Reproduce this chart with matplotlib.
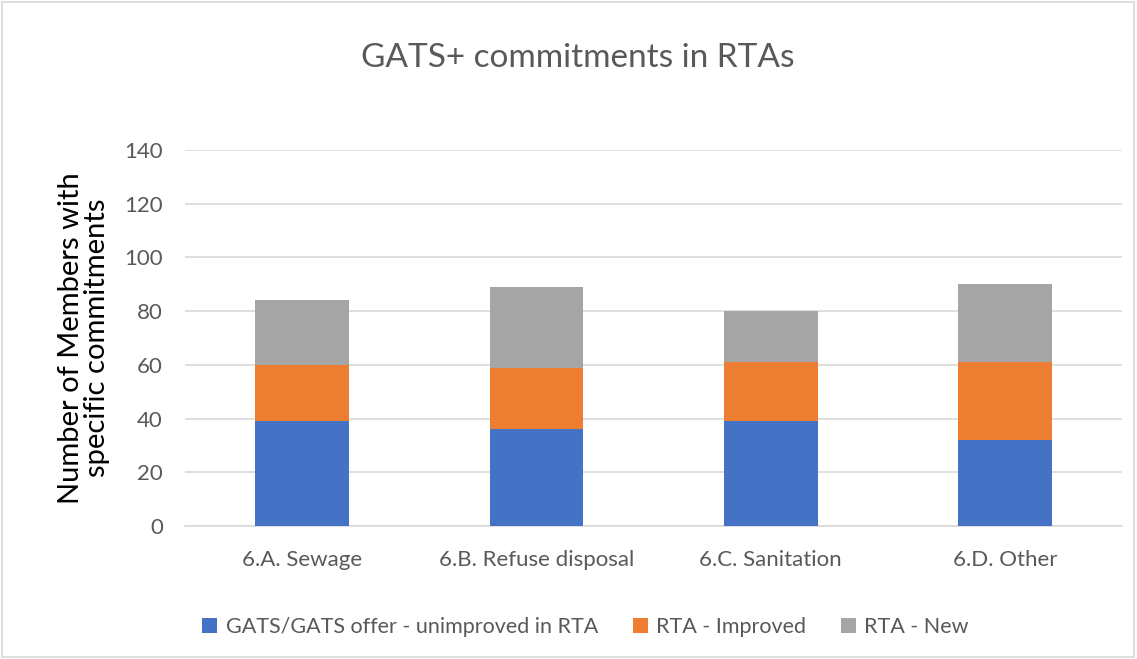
import matplotlib
matplotlib.use("Agg")
import matplotlib.pyplot as plt
from matplotlib.patches import Rectangle
import numpy as np

categories = ["6.A. Sewage", "6.B. Refuse disposal", "6.C. Sanitation", "6.D. Other"]
unimproved = [39, 36, 39, 32]
improved = [21, 23, 22, 29]
new = [24, 30, 19, 29]
series_names = ["GATS/GATS offer - unimproved in RTA", "RTA - Improved", "RTA - New"]
colors = ["#4472C4", "#ED7D31", "#A5A5A5"]

plt.rcParams['font.family'] = ['Lato', 'DejaVu Sans']

fig = plt.figure(figsize=(11.37, 6.59), dpi=100)
ax = fig.add_axes([0.1627, 0.2018, 0.8243, 0.5706])

x = np.arange(len(categories))
w = 0.4
bottom = np.zeros(len(categories))
for vals, name, c in zip([unimproved, improved, new], series_names, colors):
    ax.bar(x, vals, w, bottom=bottom, color=c, label=name, zorder=3)
    bottom += np.array(vals)

ax.set_xlim(-0.5, len(categories) - 0.5)
ax.set_ylim(0, 140)
ax.set_yticks(range(0, 141, 20))
ax.set_xticks(x)
ax.set_xticklabels(categories)
ax.grid(axis='y', color='#D9D9D9', linewidth=1.2, zorder=0)
for s in ['top', 'right', 'left']:
    ax.spines[s].set_visible(False)
ax.spines['bottom'].set_color('#D9D9D9')
ax.spines['bottom'].set_linewidth(1.2)
ax.tick_params(axis='both', length=0, labelsize=16, labelcolor='#595959')
ax.tick_params(axis='y', pad=16)
ax.tick_params(axis='x', pad=17)

ax.set_ylabel("Number of Members with\nspecific commitments", fontsize=21, color='black', labelpad=10,
              linespacing=1.0)

fig.text(0.508, 0.912, "GATS+ commitments in RTAs", ha='center', va='center', fontsize=24, color='#595959')

fig.legend(loc='center', bbox_to_anchor=(0.515, 0.048), ncol=3, frameon=False, fontsize=15.5,
           handlelength=0.7, handleheight=0.7, columnspacing=1.6, handletextpad=0.4,
           labelcolor='#595959')

fig.add_artist(Rectangle((0.002, 0.003), 0.995, 0.994, transform=fig.transFigure,
                         fill=False, edgecolor='#D9D9D9', linewidth=1.2))

fig.savefig("out.png", dpi=100)
